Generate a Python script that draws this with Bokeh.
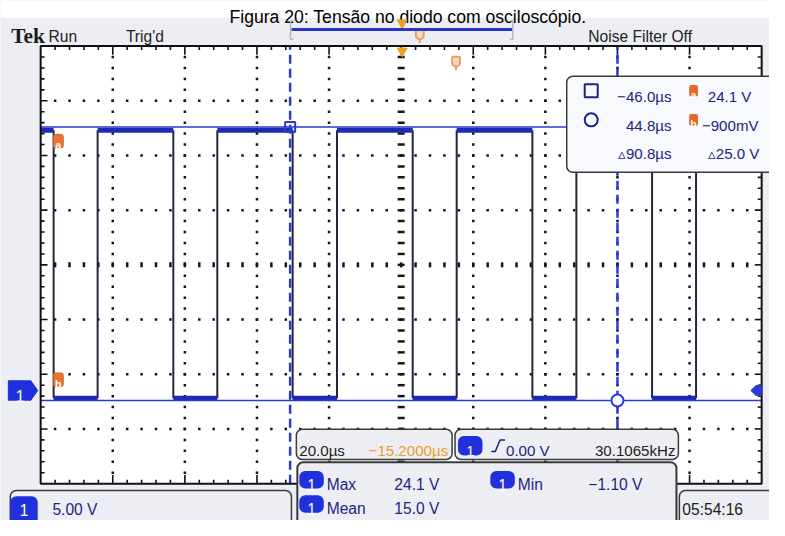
import numpy as np
from bokeh.plotting import figure
from bokeh.models import Range1d
from bokeh.core.properties import value
from bokeh.embed import file_html
from bokeh.resources import INLINE

# ---------------- data ----------------
title_text = "Figura 20: Tensão no diodo com osciloscópio."

time_per_div_us = 20.0
volts_per_div = 5.0
h_position_us = -15.2
ground_offset_div = -2.3          # channel-1 ground marker, divisions from centre

fall_times_us = [-111.6, -78.4, -45.3, -12.0, 21.2, 54.4]
rise_times_us = [-99.4, -66.2, -33.0, 0.2, 33.4, 66.6]
high_level_v = 23.8
low_level_v = -0.7

cursor_times_us = [-46.0, 44.8]
cursor_levels_v = [24.1, -0.9]
trigger_level_v = 0.0

cursor_time_labels = ["\u221246.0\u00b5s", "44.8\u00b5s", "\u25b590.8\u00b5s"]
cursor_volt_labels = ["24.1 V", "\u2212900mV", "\u25b525.0 V"]
meas_names = ["Max", "Min", "Mean"]
meas_values = ["24.1 V", "\u22121.10 V", "15.0 V"]
ch_scale_label = "5.00 V"
timebase_label = "20.0\u00b5s"
position_label = "\u221215.2000\u00b5s"
trig_label = "0.00 V"
freq_label = "30.1065kHz"
clock_label = "05:54:16"

# ---------------- layout / style ----------------
W_REF, H_REF = 785, 536
GX0, GX1, GY0, GY1 = 41, 777, 47, 498
FS = 0.975
SCOPE_FONT = "Liberation Sans"
NAVY = "#1c2580"
BLUE = "#1f30dc"
CUR = "#2b3ad6"
ORANGE = "#e9a024"
DARK = "#222222"
BG = "#eceef4"

t_left = h_position_us - 5 * time_per_div_us
t_right = h_position_us + 5 * time_per_div_us
v_center = -ground_offset_div * volts_per_div
v_bot = v_center - 4 * volts_per_div
v_top = v_center + 4 * volts_per_div
px_per_us = (GX1 - GX0) / (10 * time_per_div_us)
px_per_v = (GY1 - GY0) / (8 * volts_per_div)

p = figure(width=769, height=520, x_range=Range1d(0, W_REF), y_range=Range1d(H_REF, 0),
           output_backend="svg", toolbar_location=None,
           x_axis_location=None, y_axis_location=None, min_border=0,
           outline_line_color=None, background_fill_color=BG, border_fill_color=BG)
p.xgrid.visible = False
p.ygrid.visible = False
p.extra_x_ranges = {"t": Range1d(t_left - GX0 / px_per_us, t_right + (W_REF - GX1) / px_per_us)}
p.extra_y_ranges = {"v": Range1d(v_bot - (H_REF - GY1) / px_per_v, v_top + GY0 / px_per_v)}
tv = dict(x_range_name="t", y_range_name="v")


def txt(x, y, s, size, color=NAVY, align="left", font=SCOPE_FONT, style="normal"):
    p.text(x=[x], y=[y], text=[s], text_font=value(font),
           text_font_size=value(f"{size * FS:.1f}px"), text_color=color,
           text_align=align, text_baseline="alphabetic", text_font_style=style)


def box(x0, x1, y0, y1, fill=BG, line="#3a3a3a", lw=1.5, r=6):
    p.quad(left=x0, right=x1, top=y0, bottom=y1, fill_color=fill, line_color=line,
           line_width=lw, border_radius=r)


def badge(x0, x1, y0, y1, base=None, label="1", color=BLUE, size=16):
    p.quad(left=x0, right=x1, top=y0, bottom=y1, fill_color=color, line_color=None,
           border_radius=6)
    txt((x0 + x1) / 2, (y1 - 3) if base is None else base, label, size, "white", "center")


# page strip above the screenshot and the title
p.quad(left=0, right=W_REF, top=0, bottom=18, fill_color="white", line_color=None)
txt(416, 17.5, title_text, 18, "black", "center", "Liberation Sans")

# graticule
p.quad(left=GX0, right=GX1, top=GY0, bottom=GY1, fill_color="white", line_color=None)

major_t = t_left + time_per_div_us * np.arange(1, 10)
minor_v = v_bot + volts_per_div / 5 * np.arange(1, 40)
major_v = v_bot + volts_per_div * np.arange(1, 8)
minor_t = t_left + time_per_div_us / 5 * np.arange(1, 50)
vt = np.delete(major_t, 4)
hv = np.delete(major_v, 3)
p.scatter(x=np.repeat(vt, len(minor_v)), y=np.tile(minor_v, len(vt)), marker="square",
          size=2.5, fill_color="#151515", line_color=None, **tv)
p.scatter(x=np.tile(minor_t, len(hv)), y=np.repeat(hv, len(minor_t)), marker="square",
          size=2.5, fill_color="#151515", line_color=None, **tv)
p.scatter(x=np.full(len(minor_v), h_position_us), y=minor_v, marker="dash", size=7,
          line_color="#151515", line_width=2.5, **tv)
p.scatter(x=minor_t, y=np.full(len(minor_t), v_center), marker="dash", angle=np.pi / 2,
          size=5, line_color="#151515", line_width=2.5, **tv)

# border ticks (screen px)
xs_t = GX0 + (GX1 - GX0) / 50 * np.arange(1, 50)
Lx = np.where(np.arange(1, 50) % 5 == 0, 9, 4)
ys_t = GY0 + (GY1 - GY0) / 40 * np.arange(1, 40)
Ly = np.where(np.arange(1, 40) % 5 == 0, 7, 4)
p.segment(x0=np.concatenate([xs_t, xs_t]), y0=np.concatenate([np.full(49, GY0), np.full(49, GY1)]),
          x1=np.concatenate([xs_t, xs_t]), y1=np.concatenate([GY0 + Lx, GY1 - Lx]),
          line_color="#111111", line_width=1.6)
p.segment(x0=np.concatenate([np.full(39, GX0), np.full(39, GX1)]), y0=np.concatenate([ys_t, ys_t]),
          x1=np.concatenate([GX0 + Ly, GX1 - Ly]), y1=np.concatenate([ys_t, ys_t]),
          line_color="#111111", line_width=1.6)

# waveform
events = sorted([(t, "f") for t in fall_times_us] + [(t, "r") for t in rise_times_us])
hi0, hi1, lo0, lo1 = [], [], [], []
start, state = t_left, "h"
for t, kind in events:
    if state == "h":
        hi0.append(start); hi1.append(t)
    else:
        lo0.append(start); lo1.append(t)
    start, state = t, ("l" if kind == "f" else "h")
if state == "h":
    hi0.append(start); hi1.append(t_right)
else:
    lo0.append(start); lo1.append(t_right)
edges = [t for t, _ in events]
p.segment(x0=edges, y0=[low_level_v] * len(edges), x1=edges, y1=[high_level_v] * len(edges),
          line_color="#26263a", line_width=2, **tv)
p.segment(x0=hi0, y0=[high_level_v] * len(hi0), x1=hi1, y1=[high_level_v] * len(hi0),
          line_color="#1d2ab8", line_width=5, **tv)
p.segment(x0=lo0, y0=[low_level_v] * len(lo0), x1=lo1, y1=[low_level_v] * len(lo0),
          line_color="#1d2ab8", line_width=5, **tv)

# cursors
p.segment(x0=[t_left] * 2, y0=cursor_levels_v, x1=[t_right] * 2, y1=cursor_levels_v,
          line_color=CUR, line_width=1.6, **tv)
p.segment(x0=cursor_times_us, y0=[v_bot] * 2, x1=cursor_times_us, y1=[v_top] * 2,
          line_color=CUR, line_width=2.5, line_dash="9 5", **tv)
p.scatter(x=[cursor_times_us[0]], y=[cursor_levels_v[0]], marker="square", size=10,
          fill_color=None, line_color=CUR, line_width=2, **tv)
p.scatter(x=[cursor_times_us[1]], y=[cursor_levels_v[1]], marker="circle", size=12,
          fill_color="white", line_color=CUR, line_width=2, **tv)

# graticule border
p.quad(left=GX0, right=GX1, top=GY0, bottom=GY1, fill_color=None, line_color="#111111", line_width=2)

# cursor tags a / b on graticule
for lab, y0 in (("a", 138), ("b", 384)):
    p.quad(left=54, right=64, top=y0, bottom=y0 + 14, fill_color="#e9743a", line_color="#d8601e",
           line_width=1, border_radius=2)
    txt(59, y0 + 11, lab, 11, "white", "center", "Liberation Sans", "bold")

# channel 1 ground marker and trigger level marker
p.patch(x=[8, 31, 38, 31, 8], y=[392, 392, 402, 412, 412], fill_color=BLUE, line_color=BLUE)
txt(20, 408, "1", 17, "white", "center")
p.patch(x=[766, 771, 777, 777, 771], y=[402, 397, 397, 407, 407], fill_color=CUR, line_color=CUR)

# horizontal position / trigger markers
p.scatter(x=[410], y=[23], marker="inverted_triangle", size=10, fill_color=ORANGE, line_color=ORANGE)
p.scatter(x=[410], y=[52], marker="inverted_triangle", size=10, fill_color=ORANGE, line_color=ORANGE)
for cx, cy in ((428, 30), (465, 58)):
    p.quad(left=cx - 4, right=cx + 4, top=cy, bottom=cy + 10, fill_color="#f8d8b8",
           line_color="#e8a060", line_width=2, border_radius=(1, 1, 4, 4))
    p.segment(x0=[cx], y0=[cy + 10], x1=[cx], y1=[cy + 14], line_color="#e8a060", line_width=2)

# record view bar
p.segment(x0=[297], y0=[30], x1=[523], y1=[30], line_color="#2a35c8", line_width=3)
p.line(x=[299, 296, 296, 299], y=[21, 21, 40, 40], line_color="#b4b8c2", line_width=1.5)
p.line(x=[520, 523, 523, 520], y=[21, 21, 40, 40], line_color="#b4b8c2", line_width=1.5)

# header texts
txt(11, 37, "Tek", 22, "#1a1a1a", "left", "Liberation Serif", "bold")
txt(49, 37, "Run", 16, DARK)
txt(128, 37, "Trig'd", 16, DARK)
txt(600, 37, "Noise Filter Off", 16, DARK)

# cursor readout box
box(578, 800, 78, 177, fill="#f8f9fc")
p.scatter(x=[603], y=[93], marker="square", size=13, fill_color=None, line_color=NAVY, line_width=2)
p.scatter(x=[603], y=[123], marker="circle", size=13, fill_color=None, line_color=NAVY, line_width=2)
row_y = [99, 129, 158]
for i in range(3):
    txt(685, row_y[i], cursor_time_labels[i], 15.5, NAVY, "right")
for i, x in enumerate([722, 716, 722]):
    txt(x, row_y[i], cursor_volt_labels[i], 15.5, NAVY)
for lab, y0 in (("a", 87), ("b", 117)):
    p.quad(left=703, right=712, top=y0, bottom=y0 + 12, fill_color="#e8672a", line_color=None,
           border_radius=2)
    txt(707.5, y0 + 10, lab, 10, "white", "center", "Liberation Sans", "bold")

# bottom boxes
box(10, 297, 505, 560)
badge(10, 38, 511, 545, base=525, size=16)
txt(53, 525, ch_scale_label, 16, NAVY)

box(302, 461, 442, 473)
txt(305, 464, timebase_label, 15.5, DARK)
txt(457, 464, position_label, 15.5, ORANGE, "right")

box(464, 692, 442, 473)
badge(467, 492, 449, 469, base=464, size=15)
p.line(x=[501, 505, 510, 515], y=[465, 465, 453, 453], line_color=NAVY, line_width=1.5)
txt(516, 464, trig_label, 15.5, NAVY)
txt(689, 464, freq_label, 15.5, DARK, "right")

box(303, 690, 476, 560, lw=2)
badge(305, 330, 485, 503, base=499)
badge(305, 330, 510, 528, base=524)
badge(500, 525, 485, 503, base=499)
txt(333, 499, meas_names[0], 16, NAVY)
txt(402, 499, meas_values[0], 16, NAVY)
txt(528, 499, meas_names[1], 16, NAVY)
txt(600, 499, meas_values[1], 16, NAVY)
txt(333, 524, meas_names[2], 16, NAVY)
txt(402, 524, meas_values[2], 16, NAVY)

box(693, 800, 505, 560)
txt(696, 525, clock_label, 16, "#1a1a1a")

open("out.html", "w").write(file_html(p, INLINE))
